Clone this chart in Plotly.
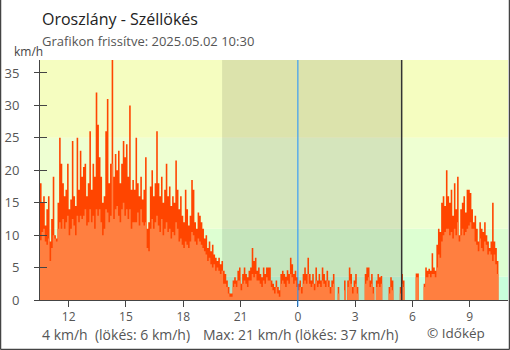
import pandas as pd
import plotly.graph_objects as go

# 5-minute wind readings, Oroszlány, 2025-05-01 10:30 -> 2025-05-02 10:25 (km/h)
gust = [
    18, 15, 16, 11.5, 14, 16, 9, 12.5, 19, 10, 9.5, 15,
    25, 21, 18, 16, 17, 21, 14, 15.5, 24.5, 16, 14.5, 25,
    17, 23, 19, 20.5, 21, 16, 18, 26, 17, 21, 19, 32,
    27, 22, 19, 15, 16, 26, 31, 18, 21, 37, 19, 22.5,
    20, 23, 18, 21, 24.5, 22, 24, 19, 30, 17, 18.5, 17,
    25, 18, 16, 19, 15.5, 17, 22, 11, 12, 17.5, 20, 16,
    18, 26, 18, 16, 19, 15, 17, 21, 16, 17.5, 14.5, 16,
    15, 21.5, 17, 14, 16, 13, 12, 17, 14, 11.5, 13, 18.5,
    17, 12, 11, 13.5, 13, 12, 11, 9.5, 10, 8, 9, 7.5,
    8.5, 7, 6.5, 6, 6.5, 5.5, 6, 4.5, 4, 3, 2, 1,
    1, 3, 3.5, 3, 4.5, 5, 2.5, 4, 5, 4, 3.5, 4.5,
    5, 8, 6, 6.5, 4.5, 5, 4, 3.5, 5, 4, 5, 5,
    5, 3, 2.5, 2, 3, 2, 1.5, 4, 4.5, 4, 3.6, 4.6,
    4, 6.5, 5.5, 4, 4.5, 3.5, 2.5, 3, 2, 4, 5, 4,
    6.5, 4, 3, 4, 2.5, 5, 3, 4, 3, 5, 4, 3,
    4.5, 3, 2, 3, 4, 0, 0, 2, 0, 0, 0, 3,
    0, 3, 5, 4, 2, 3, 4, 2, 0, 0, 0, 0,
    4, 5, 5, 3, 4, 2, 0, 3, 4, 3.5, 3.7, 0,
    0, 0, 0, 2, 3.5, 3, 0, 0, 0, 0, 2, 4,
    3, 0, 0, 0, 0, 0, 0, 0, 4.1, 4.1, 0, 0,
    0, 2.5, 5, 4.5, 4.8, 4.5, 7.2, 5, 4.5, 8.5, 11, 10.5,
    15, 16, 14.5, 20, 16, 15, 17, 13, 18, 14, 19, 10,
    14, 15, 16, 13.5, 17, 17, 16.5, 14, 12, 13, 11, 9,
    12, 11, 10.5, 12, 10, 9, 8, 9, 15, 9, 8, 6,
]
mean = [
    9.2, 10.5, 11, 9, 8.5, 9.5, 6, 8, 10, 9.5, 9, 11,
    12, 11, 12.5, 11, 12, 13, 10, 11, 12.5, 11.5, 10, 13,
    12, 13, 12.5, 13, 14, 11.5, 12, 14, 12, 13, 11, 14,
    13, 14, 12, 10, 11, 14, 13.5, 12, 13, 21, 12.5, 14,
    14.5, 13, 12, 14, 15, 13, 14, 12.5, 14, 11, 12, 12,
    12, 13.5, 11.5, 14, 12, 11.5, 12, 8, 7.5, 11, 12.5, 11,
    12, 13, 11.5, 10.5, 12.5, 10, 11, 12, 10.5, 11, 9.5, 10.5,
    10, 12, 11, 9, 9.5, 8.5, 8, 9, 8.5, 8, 9, 10.5,
    10, 9, 8.5, 9.5, 9, 8.5, 8, 7.5, 7, 6, 6.5, 5.5,
    5, 5.5, 4.5, 5, 4.5, 4, 4.5, 2.5, 2.5, 2, 1, 0.5,
    0.5, 2, 2.5, 2, 3, 3, 1.5, 2.5, 3, 2.5, 2, 3,
    3, 4, 3.5, 4, 3, 3, 2.5, 2, 3, 2.5, 3.5, 3,
    3, 2, 1.5, 1, 2, 1, 0.5, 2.5, 3, 2.5, 2, 3,
    2.5, 4, 3.5, 2.5, 3, 2, 1.5, 2, 1, 2.5, 3, 2.5,
    4, 2.5, 2, 2.5, 1.5, 3, 2, 2.5, 2, 3, 2.5, 2,
    3, 2, 1, 2, 2.5, 0, 0, 1, 0, 0, 0, 1.5,
    0, 2, 3, 2.5, 1, 2, 2.5, 1, 0, 0, 0, 0,
    2.5, 3, 3.5, 2, 2.5, 1, 0, 2, 2.5, 2, 2.5, 0,
    0, 0, 0, 1, 2, 1.5, 0, 0, 0, 0, 1, 2.5,
    2, 0, 0, 0, 0, 0, 0, 0, 3.5, 3.5, 0, 0,
    0, 2, 3.5, 3.5, 4, 3.5, 4, 4, 3.5, 5, 7, 6.5,
    9, 10, 10.5, 11, 11, 10, 10.5, 9.5, 11, 10, 12, 9,
    10, 11, 10, 10.5, 11, 11.5, 12, 11, 11, 9, 8.5, 7.5,
    9.5, 8, 7.5, 9, 8.5, 7, 7.5, 7, 6, 7, 5.5, 4,
]

start = pd.Timestamp("2025-05-01 10:30")
axis_end = pd.Timestamp("2025-05-02 11:00")
step = pd.Timedelta(minutes=5)
sunset = pd.Timestamp("2025-05-01 20:02")
sunrise = pd.Timestamp("2025-05-02 05:26")
midnight = pd.Timestamp("2025-05-02 00:00")

# background wind-strength bands (km/h) and their colours
band_edges = [0, 3.6, 11, 25, 37]
band_colors = ["#c8ffdc", "#ddffd2", "#eeffd2", "#f5fdc0"]
y_ticks = [0, 5, 10, 15, 20, 25, 30, 35]

times = [start + k * step for k in range(len(gust))]
x_step = times + [times[-1] + step]
gust_step = gust + [gust[-1]]
mean_step = mean + [mean[-1]]

FONT = "Open Sans"
AX = "#444"

fig = go.Figure()
fig.add_trace(go.Scatter(
    x=x_step, y=gust_step, mode="lines", line=dict(width=0, shape="hv"),
    fill="tozeroy", fillcolor="#ff4500", hoverinfo="skip", showlegend=False))
fig.add_trace(go.Scatter(
    x=x_step, y=mean_step, mode="lines", line=dict(width=0, shape="hv"),
    fill="tozeroy", fillcolor="#ff7f40", hoverinfo="skip", showlegend=False))
# empty trace so the inner tick marks axis is drawn
fig.add_trace(go.Scatter(x=[], y=[], yaxis="y2", showlegend=False))

shapes = []
for lo, hi, col in zip(band_edges[:-1], band_edges[1:], band_colors):
    shapes.append(dict(type="rect", xref="paper", yref="y", x0=0, x1=1, y0=lo, y1=hi,
                       fillcolor=col, line=dict(width=0), layer="below"))
shapes.append(dict(type="rect", xref="x", yref="paper", x0=sunset, x1=sunrise, y0=0, y1=1,
                   fillcolor="rgba(0,0,0,0.1)", line=dict(width=0), layer="below"))
shapes.append(dict(type="line", xref="x", yref="paper", x0=midnight, x1=midnight,
                   y0=-0.027, y1=1, line=dict(color="#1e90ff", width=1)))
shapes.append(dict(type="line", xref="x", yref="paper", x0=sunrise, x1=sunrise,
                   y0=0, y1=1, line=dict(color="#333", width=1.5)))
# outer frame: left, right, bottom
for x0, y0, x1, y1 in [(-0.0844, -0.206, -0.0844, 1.25), (1.0032, -0.206, 1.0032, 1.25),
                       (-0.0844, -0.206, 1.0032, -0.206)]:
    shapes.append(dict(type="line", xref="paper", yref="paper", x0=x0, y0=y0, x1=x1, y1=y1,
                       line=dict(color="#444", width=1.5)))

stats_now = f"{mean[-1]:g} km/h  (lökés: {gust[-1]:g} km/h)"
stats_max = f"Max: {max(mean):g} km/h (lökés: {max(gust):g} km/h)"

ann = [
    dict(text="Oroszlány - Széllökés", x=0, y=1.17, xanchor="left", yanchor="middle",
         font=dict(size=16, color="#222")),
    dict(text="Grafikon frissítve: 2025.05.02 10:30", x=0, y=1.078, xanchor="left",
         yanchor="middle", font=dict(size=13, color="#555")),
    dict(text="km/h", x=-0.06, y=1.035, xanchor="left", yanchor="middle",
         font=dict(size=12, color="#444")),
    dict(text=stats_now, x=0, y=-0.145, xanchor="left", yanchor="middle",
         font=dict(size=14, color="#555")),
    dict(text=stats_max, x=0.345, y=-0.145, xanchor="left", yanchor="middle",
         font=dict(size=14, color="#555")),
    dict(text="© Időkép", x=0.823, y=-0.138, xanchor="left", yanchor="middle",
         font=dict(size=13.5, color="#555")),
]
for a in ann:
    a.update(xref="paper", yref="paper", showarrow=False)

fig.update_layout(
    width=510, height=350,
    margin=dict(l=40, r=2, t=60, b=50),
    paper_bgcolor="white", plot_bgcolor="white",
    font=dict(family=FONT, color="#555"),
    shapes=shapes, annotations=ann, showlegend=False,
    xaxis=dict(type="date", range=[start, axis_end], tickformat="%-H",
               tick0="2025-05-01 00:00", dtick=3 * 3600 * 1000,
               ticks="outside", ticklen=6, tickcolor=AX, showline=True, linecolor=AX,
               linewidth=1, showgrid=False, zeroline=False,
               tickfont=dict(size=12, color="#555")),
    yaxis=dict(range=[0, 37], tickvals=y_ticks, ticks="outside", ticklen=5,
               tickcolor=AX, showline=True, linecolor=AX, linewidth=1, showgrid=False,
               zeroline=False, ticklabelstandoff=12, tickfont=dict(size=13, color="#555")),
    yaxis2=dict(range=[0, 37], tickvals=y_ticks, ticks="inside", ticklen=7,
                tickcolor=AX, overlaying="y", side="left", showticklabels=False,
                showline=False, showgrid=False, zeroline=False),
)

fig.write_html("out.html")
